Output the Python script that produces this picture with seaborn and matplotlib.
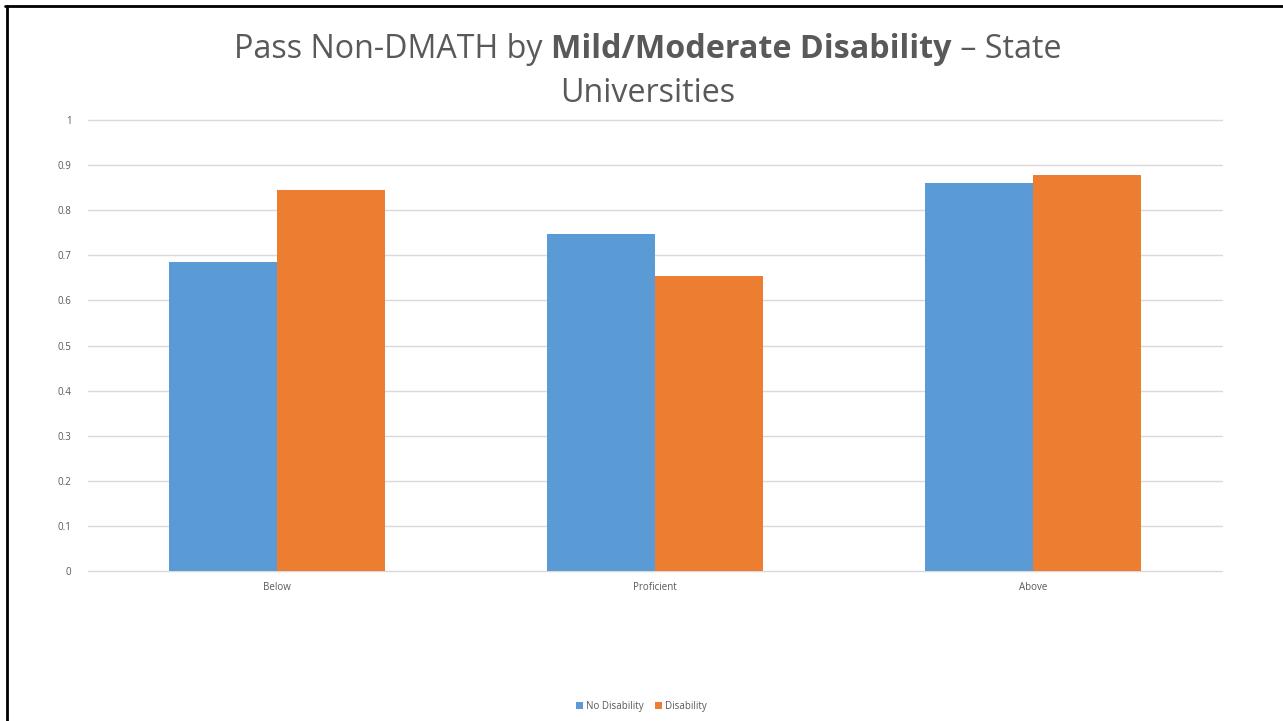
import matplotlib
matplotlib.use("Agg")
import matplotlib.pyplot as plt
from matplotlib.lines import Line2D
from matplotlib.offsetbox import TextArea, HPacker, AnchoredOffsetbox
import seaborn as sns
import pandas as pd

# Pass rates by proficiency level
categories = ["Below", "Proficient", "Above"]
series_names = ["No Disability", "Disability"]
no_disability = [0.685, 0.747, 0.860]
disability = [0.845, 0.653, 0.877]
y_ticks = [0, 0.1, 0.2, 0.3, 0.4, 0.5, 0.6, 0.7, 0.8, 0.9, 1]
y_tick_labels = ["0", "0.1", "0.2", "0.3", "0.4", "0.5", "0.6", "0.7", "0.8", "0.9", "1"]

df = pd.DataFrame({
    "Level": categories * 2,
    "Group": [series_names[0]] * 3 + [series_names[1]] * 3,
    "Rate": no_disability + disability,
})

sns.set_theme(style="white")
plt.rcParams["font.family"] = ["Open Sans", "DejaVu Sans"]

text_gray = "#595959"
fig = plt.figure(figsize=(12.83, 7.21), dpi=100)
ax = fig.add_axes([88 / 1283, 1 - 571 / 721, (1222 - 88) / 1283, (571 - 120) / 721])

sns.barplot(data=df, x="Level", y="Rate", hue="Group", order=categories,
            hue_order=series_names, palette=["#5B9BD5", "#ED7D31"],
            width=0.571, saturation=1, ax=ax, zorder=3)

for p in ax.patches:
    p.set_edgecolor("none")

ax.set_xlim(-0.5, 2.5)
ax.set_ylim(0, 1)
ax.set_yticks(y_ticks)
ax.set_yticklabels(y_tick_labels)
ax.set_xlabel("")
ax.set_ylabel("")
for s in ax.spines.values():
    s.set_visible(False)
ax.yaxis.grid(True, color="#d9d9d9", linewidth=1.0, zorder=0)
ax.xaxis.grid(False)
ax.set_axisbelow(True)
for gl in ax.get_ygridlines():
    gl.set_clip_on(False)
ax.tick_params(axis="both", length=0, labelsize=7, colors=text_gray)
ax.tick_params(axis="y", pad=12)
ax.tick_params(axis="x", pad=8)

# Legend below the plot
handles, labels = ax.get_legend_handles_labels()
ax.legend_.remove()
fig.legend(handles, labels, loc="center", bbox_to_anchor=(0.5, 1 - 706 / 721),
           ncol=2, frameon=False, fontsize=7, handlelength=0.7, handleheight=0.7,
           handletextpad=0.3, columnspacing=1.2, labelcolor=text_gray)

# Title with a bold middle phrase
title_size = 23.2
parts = [
    TextArea("Pass Non-DMATH by ", textprops=dict(fontsize=title_size, color=text_gray)),
    TextArea("Mild/Moderate Disability", textprops=dict(fontsize=title_size, color=text_gray, fontweight="bold")),
    TextArea(" \u2013 State", textprops=dict(fontsize=title_size, color=text_gray)),
]
line1 = HPacker(children=parts, align="baseline", pad=0, sep=0)
box = AnchoredOffsetbox(loc="center", child=line1, frameon=False, pad=0,
                        bbox_to_anchor=(0.505, 1 - 49 / 721), bbox_transform=fig.transFigure,
                        borderpad=0)
fig.add_artist(box)
fig.text(0.505, 1 - 94 / 721, "Universities", ha="center", va="center",
         fontsize=title_size, color=text_gray)

# Slide frame edges (top and left)
fig.add_artist(Line2D([5 / 1283, 1], [1 - 6 / 721, 1 - 6 / 721], color="black",
                      linewidth=2, transform=fig.transFigure))
fig.add_artist(Line2D([7 / 1283, 7 / 1283], [0, 1 - 6 / 721], color="black",
                      linewidth=2, transform=fig.transFigure))

fig.savefig("out.png", dpi=100)
